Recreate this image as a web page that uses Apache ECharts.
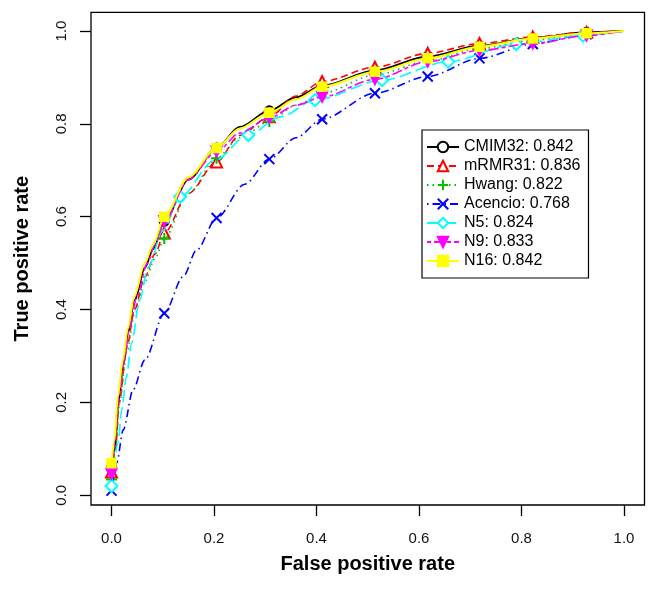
<!DOCTYPE html>
<html>
<head>
<meta charset="utf-8">
<script src="https://cdn.jsdelivr.net/npm/echarts@6/dist/echarts.min.js"></script>
<style>html,body{margin:0;padding:0;background:#fff}#c{width:658px;height:598px}</style>
</head>
<body>
<div id="c"></div>
<script>
// ---- data ----
const tickValues = [0, 0.2, 0.4, 0.6, 0.8, 1.0];
const seriesNames = ['CMIM32: 0.842', 'mRMR31: 0.836', 'Hwang: 0.822', 'Acencio: 0.768', 'N5: 0.824', 'N9: 0.833', 'N16: 0.842'];

// marker positions (false positive rate) shared by most curves
const fprMarks = [0, 0.103, 0.205, 0.308, 0.411, 0.514, 0.617, 0.718, 0.822, 0.927];
const fprMarksN5 = [0, 0.134, 0.267, 0.397, 0.528, 0.657, 0.79, 0.92];

// true positive rate at the marker positions
const cmim32Marks = [0.06, 0.59, 0.748, 0.828, 0.882, 0.915, 0.945, 0.968, 0.985, 0.997];
const mrmr31Marks = [0.05, 0.565, 0.718, 0.815, 0.891, 0.922, 0.952, 0.973, 0.987, 0.997];
const hwangMarks  = [0.034, 0.553, 0.726, 0.805, 0.866, 0.905, 0.935, 0.962, 0.98, 0.995];
const acencioMarks = [0.01, 0.392, 0.597, 0.724, 0.81, 0.866, 0.902, 0.941, 0.972, 0.993];
const n5Marks = [0.02, 0.643, 0.776, 0.851, 0.894, 0.934, 0.972, 0.99];
const n9Marks = [0.046, 0.59, 0.74, 0.813, 0.858, 0.896, 0.934, 0.958, 0.973, 0.99];
const n16Marks = [0.069, 0.6, 0.748, 0.824, 0.88, 0.912, 0.941, 0.966, 0.984, 0.995];

// additional curve points (no marker) [fpr, tpr]
const cmim32Curve = [[0.007,0.1],[0.013,0.2],[0.023,0.28],[0.032,0.35],[0.045,0.42],[0.065,0.49],[0.081,0.53],[0.15,0.68],[0.25,0.793],[0.36,0.857],[1,1]];
const mrmr31Curve = [[0.008,0.1],[0.015,0.2],[0.03,0.32],[0.045,0.4],[0.065,0.47],[0.085,0.52],[0.15,0.65],[0.25,0.775],[0.36,0.86],[1,1]];
const hwangCurve  = [[0.008,0.1],[0.016,0.2],[0.03,0.31],[0.045,0.39],[0.065,0.46],[0.085,0.51],[0.15,0.65],[0.25,0.77],[0.36,0.84],[1,1]];
const acencioCurve = [[0.01,0.069],[0.023,0.141],[0.042,0.227],[0.065,0.291],[0.14,0.471],[0.166,0.528],[0.26,0.67],[0.36,0.77],[1,1]];
const n5Curve = [[0.013,0.113],[0.02,0.184],[0.029,0.255],[0.039,0.327],[0.055,0.42],[0.071,0.49],[0.1,0.57],[0.2,0.72],[0.33,0.815],[1,1]];
const n9Curve = [[0.007,0.12],[0.014,0.21],[0.025,0.29],[0.035,0.36],[0.05,0.43],[0.07,0.5],[0.085,0.54],[0.15,0.68],[0.25,0.78],[0.36,0.84],[1,1]];
const n16Curve = [[0.006,0.12],[0.012,0.21],[0.022,0.29],[0.032,0.36],[0.045,0.43],[0.065,0.5],[0.081,0.54],[0.15,0.685],[0.25,0.79],[0.36,0.853],[1,1]];

// ---- build ----
function build(fx, marks, curve) {
  const pts = fx.map((x, i) => ({ value: [x, marks[i]], mark: true }))
    .concat(curve.map(p => ({ value: p, mark: false })));
  pts.sort((a, b) => a.value[0] - b.value[0] || a.value[1] - b.value[1]);
  return pts.map(p => p.mark ? { value: p.value } : { value: p.value, symbol: 'none' });
}

const plusPath = 'path://M0,-10V10M-10,0H10';
const crossPath = 'path://M-10,-10L10,10M-10,10L10,-10';

const styles = [
  { data: build(fprMarks, cmim32Marks, cmim32Curve), color: '#000000', type: 'solid', width: 2, symbol: 'emptyCircle', size: 9 },
  { data: build(fprMarks, mrmr31Marks, mrmr31Curve), color: '#ff0000', type: [7, 4], width: 1.6, symbol: 'emptyTriangle', size: 11 },
  { data: build(fprMarks, hwangMarks, hwangCurve), color: '#00c000', type: [1.5, 4], width: 1.6, symbol: plusPath, size: 11, stroke: true },
  { data: build(fprMarks, acencioMarks, acencioCurve), color: '#0000ff', type: [1.5, 4, 8, 4], width: 1.6, symbol: crossPath, size: 10, stroke: true },
  { data: build(fprMarksN5, n5Marks, n5Curve), color: '#00ffff', type: [12, 5], width: 1.6, symbol: 'emptyDiamond', size: 12 },
  { data: build(fprMarks, n9Marks, n9Curve), color: '#ff00ff', type: [4, 3, 10, 3], width: 1.6, symbol: 'triangle', size: 11, rotate: 180 },
  { data: build(fprMarks, n16Marks, n16Curve), color: '#ffff00', type: 'solid', width: 2, symbol: 'rect', size: 9 }
];

const series = styles.map((s, i) => ({
  name: seriesNames[i],
  type: 'line',
  data: s.data,
  symbol: s.symbol,
  symbolSize: s.size,
  symbolRotate: s.rotate || 0,
  showSymbol: true,
  smooth: 0.3,
  smoothMonotone: 'x',
  z: 2 + i,
  animation: false,
  lineStyle: { color: s.color, width: s.width, type: s.type },
  itemStyle: s.stroke
    ? { color: s.color, borderColor: s.color, borderWidth: 2 }
    : { color: s.color, borderColor: s.color, borderWidth: 1.5 }
}));

const font = '"Liberation Sans", Arial, Helvetica, sans-serif';
const chart = echarts.init(document.getElementById('c'), null, { renderer: 'canvas' });
chart.setOption({
  backgroundColor: '#ffffff',
  animation: false,
  grid: { left: 91, right: 13.5, top: 12.4, bottom: 93, show: true, borderColor: '#000', borderWidth: 1.3, backgroundColor: 'transparent', containLabel: false },
  legend: {
    orient: 'vertical',
    left: 422, top: 130,
    width: 165,
    padding: [9, 8, 9, 4],
    itemGap: 3,
    itemWidth: 32, itemHeight: 13,
    borderColor: '#000', borderWidth: 1.2,
    textStyle: { fontFamily: font, fontSize: 16, color: '#000', lineHeight: 15 },
    data: seriesNames
  },
  xAxis: {
    type: 'value', min: -0.04, max: 1.04,
    axisLine: { show: false, onZero: false },
    splitLine: { show: false },
    axisTick: { show: true, customValues: tickValues, length: 11, inside: false, lineStyle: { color: '#000', width: 1.3 } },
    axisLabel: { customValues: tickValues, formatter: v => v.toFixed(1), fontFamily: font, fontSize: 15, color: '#111', margin: 26 },
    name: 'False positive rate', nameLocation: 'middle', nameGap: 49,
    nameTextStyle: { fontFamily: font, fontSize: 20, fontWeight: 'bold', color: '#000' }
  },
  yAxis: {
    type: 'value', min: -0.021, max: 1.04,
    axisLine: { show: false, onZero: false },
    splitLine: { show: false },
    axisTick: { show: true, customValues: tickValues, length: 11, inside: false, lineStyle: { color: '#000', width: 1.3 } },
    axisLabel: { customValues: tickValues, formatter: v => v.toFixed(1), rotate: 90, fontFamily: font, fontSize: 15, color: '#111', margin: 22 },
    name: 'True positive rate', nameLocation: 'middle', nameGap: 59, nameRotate: 90,
    nameTextStyle: { fontFamily: font, fontSize: 20, fontWeight: 'bold', color: '#000' }
  },
  series: series
});
</script>
</body>
</html>
